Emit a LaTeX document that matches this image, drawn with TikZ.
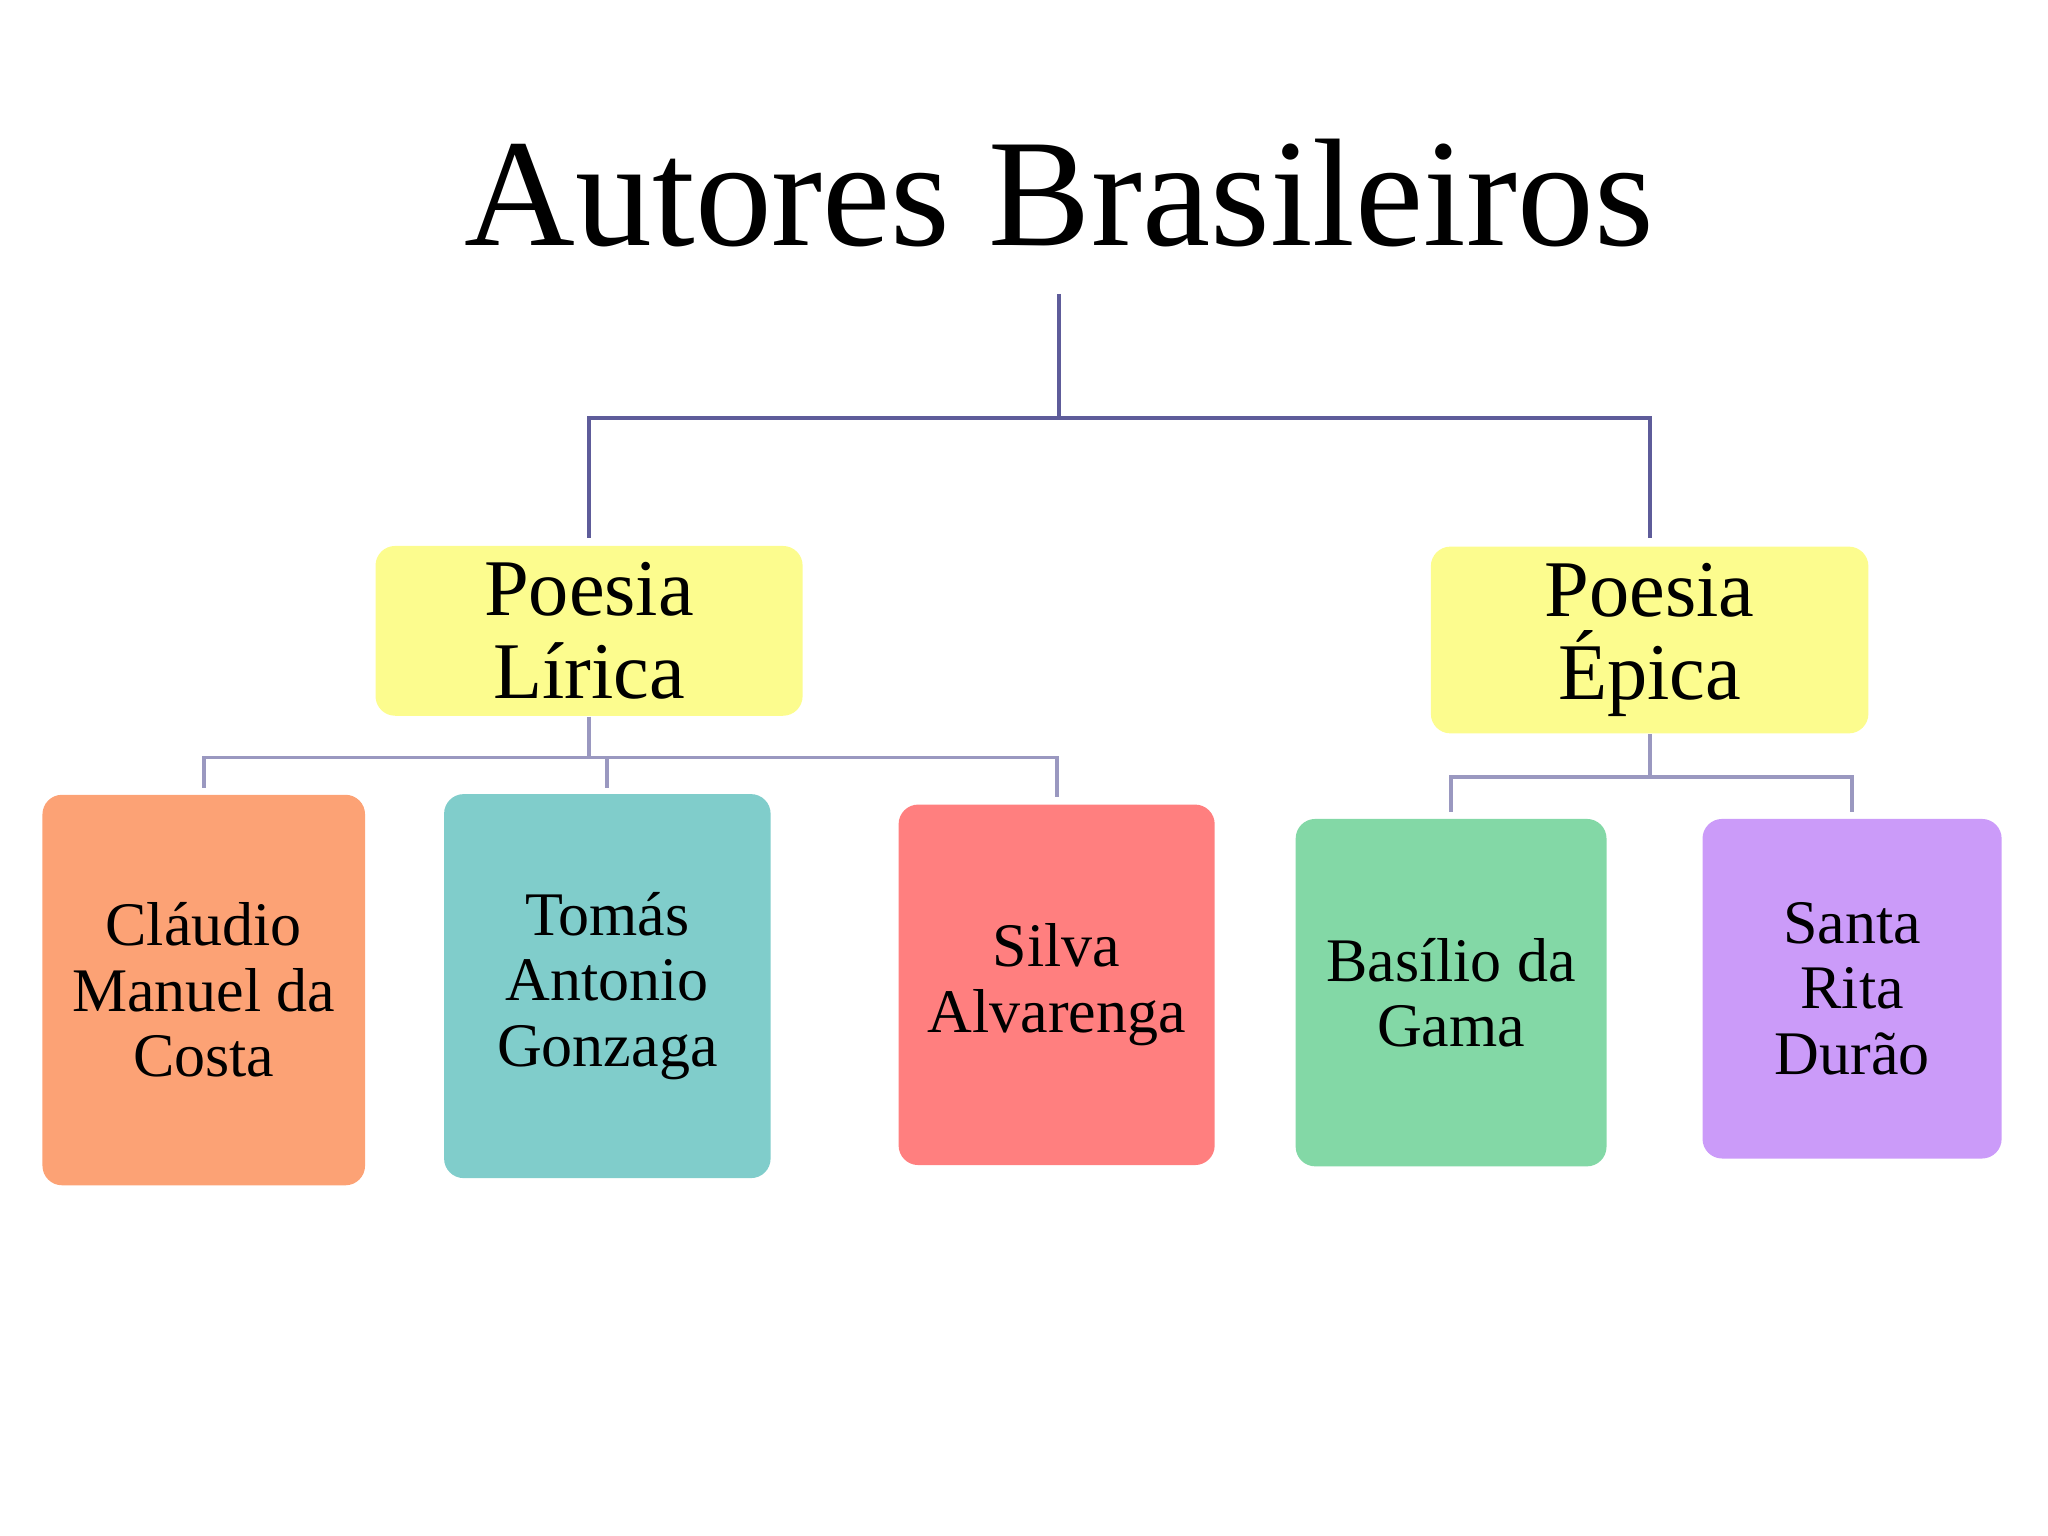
\documentclass[tikz,border=0pt]{standalone}
\usepackage{fontspec}
\setmainfont{Liberation Serif}
\definecolor{ylw}{HTML}{FCFC8E}
\definecolor{org}{HTML}{FCA275}
\definecolor{tea}{HTML}{80CDCB}
\definecolor{red1}{HTML}{FF7F7F}
\definecolor{grn}{HTML}{83D8A6}
\definecolor{pur}{HTML}{CB9BF9}
\definecolor{dark}{HTML}{5E5C9A}
\definecolor{lite}{HTML}{9A98C0}
\tikzset{
 box/.style={rounded corners=15*0.01cm, align=center, inner sep=0pt, font=\fontsize{13.5}{14.3}\selectfont},
 topbox/.style={box, fill=ylw, font=\fontsize{17.5}{18}\selectfont},
 dk/.style={draw=dark, line width=0.85pt},
 lt/.style={draw=lite, line width=0.85pt}
}
\begin{document}
\begin{tikzpicture}[x=0.01cm,y=-0.01cm]
\useasboundingbox (0,0) rectangle (1568,1176);
\node[font=\fontsize{33.4}{35}\selectfont] (title) at (811,148) {Autores Brasileiros};
\coordinate (t0) at (811,225);
\node[topbox, minimum width=327*0.01cm, minimum height=130*0.01cm] (lir) at (451,483) {Poesia\\Lírica};
\node[topbox, minimum width=335*0.01cm, minimum height=143*0.01cm] (epi) at (1263,490) {Poesia\\Épica};
\node[box, fill=org, minimum width=247*0.01cm, minimum height=299*0.01cm] (c1) at (156,758) {Cláudio\\Manuel da\\Costa};
\node[box, fill=tea, minimum width=250*0.01cm, minimum height=294*0.01cm] (c2) at (465,755) {Tomás\\Antonio\\Gonzaga};
\node[box, fill=red1, minimum width=242*0.01cm, minimum height=276*0.01cm] (c3) at (809,754) {Silva\\Alvarenga};
\node[box, fill=grn, minimum width=238*0.01cm, minimum height=266*0.01cm] (c4) at (1111,760) {Basílio da\\Gama};
\node[box, fill=pur, minimum width=229*0.01cm, minimum height=260*0.01cm] (c5) at (1418,757) {Santa\\Rita\\Durão};
\draw[dk] (t0) -- (811,320) -| (1263,412);
\draw[dk] (811,320) -| (451,412);
\draw[lt] (lir.south) -- (451,580);
\draw[lt] (451,580) -| (156,603);
\draw[lt] (451,580) -| (465,603);
\draw[lt] (451,580) -| (809,610);
\draw[lt] (epi.south) -- (1263,595);
\draw[lt] (1263,595) -| (1111,622);
\draw[lt] (1263,595) -| (1418,622);
\end{tikzpicture}
\end{document}
